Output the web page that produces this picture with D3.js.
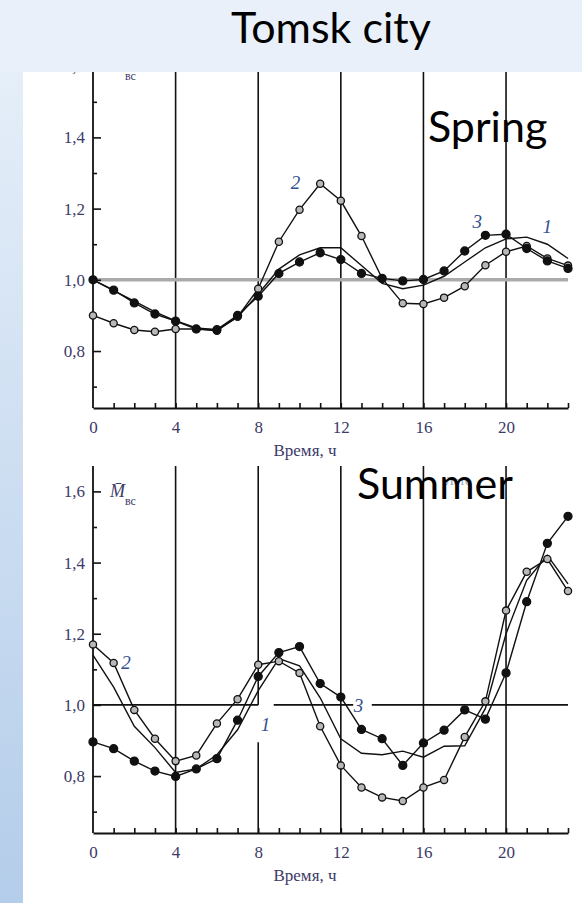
<!DOCTYPE html>
<html><head><meta charset="utf-8">
<script src="https://cdn.jsdelivr.net/npm/d3@7"></script>
<style>
html,body{margin:0;padding:0;background:#e9f0f9;}
svg{display:block;}
</style></head>
<body>
<script>
// ---------- data ----------
const hours = [0,1,2,3,4,5,6,7,8,9,10,11,12,13,14,15,16,17,18,19,20,21,22,23];
const gridHours = [4,8,12,16,20];
const xTickLabels = [0,4,8,12,16,20];
const yMajor = [0.8,1.0,1.2,1.4,1.6];
const yMinor = [0.7,0.9,1.1,1.3,1.5];

const springS1 = [1.00,0.97,0.94,0.91,0.885,0.865,0.86,0.895,0.96,1.03,1.07,1.09,1.09,1.04,0.99,0.975,0.985,1.01,1.05,1.09,1.115,1.12,1.10,1.06];
const springS2 = [0.90,0.878,0.859,0.854,0.862,0.862,0.857,0.896,0.975,1.107,1.197,1.27,1.222,1.123,1.004,0.934,0.932,0.95,0.982,1.041,1.079,1.095,1.06,1.04];
const springS3 = [1.00,0.971,0.935,0.904,0.884,0.862,0.86,0.90,0.954,1.018,1.05,1.076,1.057,1.018,1.004,0.997,1.001,1.025,1.081,1.125,1.128,1.088,1.053,1.032];

const summerS1 = [1.14,1.05,0.94,0.88,0.81,0.82,0.86,0.93,1.04,1.13,1.11,1.02,0.905,0.864,0.86,0.87,0.853,0.884,0.885,0.99,1.20,1.35,1.42,1.34];
const summerS2 = [1.17,1.118,0.986,0.905,0.842,0.858,0.948,1.016,1.113,1.123,1.09,0.94,0.83,0.768,0.74,0.73,0.768,0.789,0.91,1.01,1.265,1.374,1.41,1.32];
const summerS3 = [0.896,0.877,0.842,0.814,0.799,0.82,0.849,0.957,1.08,1.147,1.164,1.06,1.022,0.931,0.905,0.83,0.893,0.929,0.986,0.96,1.09,1.29,1.454,1.53];

const springLabels = [{t:"2",h:9.8,v:1.275},{t:"3",h:18.6,v:1.165},{t:"1",h:22.0,v:1.15}];
const summerLabels = [{t:"2",h:1.6,v:1.12},{t:"1",h:8.35,v:0.945},{t:"3",h:12.85,v:1.0}];
const summerRefSegments = [[0,8],[8.75,12.6],[13.5,23]];

// ---------- drawing ----------
const W = 582, H = 903;
const svg = d3.select("body").append("svg").attr("width",W).attr("height",H);
const defs = svg.append("defs");
const lg = defs.append("linearGradient").attr("id","bg").attr("x1",0).attr("y1",0).attr("x2",0).attr("y2",1);
lg.append("stop").attr("offset","0%").attr("stop-color","#e9f1fa");
lg.append("stop").attr("offset","100%").attr("stop-color","#b4cdea");
svg.append("rect").attr("width",W).attr("height",H).attr("fill","url(#bg)");
svg.append("rect").attr("x",0).attr("y",0).attr("width",W).attr("height",72).attr("fill","#e9f0f9");
svg.append("rect").attr("x",23).attr("y",72).attr("width",W-23).attr("height",H-72).attr("fill","#ffffff");

defs.append("clipPath").attr("id","clipTop").append("rect").attr("x",23).attr("y",72).attr("width",W-23).attr("height",H-72);

const labelColor = "#3c3a68";
const x = d3.scaleLinear().domain([0,23]).range([93,568]);

function panel(opts){
  const g = svg.append("g").attr("clip-path","url(#clipTop)");
  const y = d3.scaleLinear().domain([0.64,1.6]).range(opts.yRange);
  const yTop = opts.yTopPx;
  const axisY = y(0.64);

  // vertical grid lines
  gridHours.forEach(h=>{
    if(opts.vGap && opts.vGap.h===h){
      g.append("line").attr("x1",x(h)).attr("x2",x(h)).attr("y1",yTop).attr("y2",y(opts.vGap.v1)).attr("stroke","#111").attr("stroke-width",1.6);
      g.append("line").attr("x1",x(h)).attr("x2",x(h)).attr("y1",y(opts.vGap.v0)).attr("y2",axisY).attr("stroke","#111").attr("stroke-width",1.6);
    } else {
      g.append("line").attr("x1",x(h)).attr("x2",x(h)).attr("y1",yTop).attr("y2",axisY).attr("stroke","#111").attr("stroke-width",1.6);
    }
  });

  // reference line at 1.0
  opts.refSegments.forEach(s=>{
    g.append("line").attr("x1",x(s[0])).attr("x2",x(s[1])).attr("y1",y(1)).attr("y2",y(1))
      .attr("stroke",opts.refColor).attr("stroke-width",opts.refWidth);
  });

  // y axis
  g.append("line").attr("x1",x(0)).attr("x2",x(0)).attr("y1",yTop).attr("y2",axisY).attr("stroke","#111").attr("stroke-width",1.8);
  const yAx = g.append("g").attr("transform",`translate(${x(0)},0)`)
    .call(d3.axisLeft(y).tickValues(yMajor).tickSizeInner(-8).tickSizeOuter(0).tickPadding(8)
      .tickFormat(d=>d3.format(".1f")(d).replace(".",",")));
  yAx.select(".domain").remove();
  yAx.selectAll("line").attr("stroke","#111").attr("stroke-width",1.6);
  yAx.selectAll("text").attr("font-family","Liberation Serif").attr("font-size",17).attr("fill",labelColor);
  const yAxm = g.append("g").attr("transform",`translate(${x(0)},0)`)
    .call(d3.axisLeft(y).tickValues(yMinor).tickSizeInner(-4).tickSizeOuter(0).tickFormat(""));
  yAxm.select(".domain").remove();
  yAxm.selectAll("line").attr("stroke","#111").attr("stroke-width",1.6);

  // x axis
  const xAx = g.append("g").attr("transform",`translate(0,${axisY})`)
    .call(d3.axisBottom(x).tickValues(hours.slice(1)).tickSizeInner(-5).tickSizeOuter(0).tickFormat(""));
  xAx.select(".domain").attr("stroke","#111").attr("stroke-width",1.8);
  xAx.selectAll("line").attr("stroke","#111").attr("stroke-width",1.6);
  const xAxL = g.append("g").attr("transform",`translate(0,${axisY})`)
    .call(d3.axisBottom(x).tickValues(xTickLabels).tickSize(0).tickPadding(13));
  xAxL.select(".domain").remove();
  xAxL.selectAll("text").attr("font-family","Liberation Serif").attr("font-size",17).attr("fill",labelColor);
  g.append("text").attr("x",305).attr("y",axisY+48).attr("text-anchor","middle")
    .attr("font-family","Liberation Serif").attr("font-size",17).attr("fill",labelColor).text("Время, ч");

  // y title M̄вс
  const tt = g.append("text").attr("x",110).attr("y",y(1.6)+6).attr("font-family","Liberation Serif").attr("fill",labelColor);
  tt.append("tspan").attr("font-style","italic").attr("font-size",18).text("M\u0304");
  tt.append("tspan").attr("font-size",12).attr("dy",8).text("вс");

  // series
  const line = d3.line().x((d,i)=>x(hours[i])).y(d=>y(d));
  opts.series.forEach(s=>{
    g.append("path").datum(s.values).attr("d",line).attr("fill","none")
      .attr("stroke","#111").attr("stroke-width",1.4).attr("stroke-dasharray",s.dash||null);
  });
  opts.series.forEach(s=>{
    if(!s.marker) return;
    g.selectAll(null).data(s.values).enter().append("circle")
      .attr("cx",(d,i)=>x(hours[i])).attr("cy",d=>y(d))
      .attr("r",s.marker==="filled"?4:3.6)
      .attr("fill",s.marker==="filled"?"#111":"#b8b8b8")
      .attr("stroke","#111").attr("stroke-width",1.3);
  });

  // series labels
  opts.labels.forEach(l=>{
    g.append("text").attr("x",x(l.h)).attr("y",y(l.v)).attr("text-anchor","middle").attr("dy","0.35em")
      .attr("font-family","Liberation Serif").attr("font-style","italic").attr("font-size",19)
      .attr("fill","#34508e").text(l.t);
  });
  return {g,y};
}

panel({
  yRange:[408,66.2], yTopPx:60,
  refSegments:[[0,23]], refColor:"#aaaaaa", refWidth:3.5,
  series:[{values:springS1},{values:springS2,marker:"open"},{values:springS3,marker:"filled"}],
  labels:springLabels
});

const bot = panel({
  yRange:[833,491.4], yTopPx:466,
  refSegments:summerRefSegments, refColor:"#111", refWidth:1.6,
  vGap:{h:8,v1:1.0,v0:0.895},
  series:[{values:summerS1},{values:summerS2,marker:"open"},{values:summerS3,marker:"filled"}],
  labels:summerLabels
});

// faint original heading behind "Summer"
svg.append("text").attr("x",445).attr("y",485).attr("font-family","Liberation Serif").attr("font-size",13)
  .attr("fill","#8ea3cc").text("Лето");

// slide texts
svg.append("text").attr("x",331).attr("y",43).attr("text-anchor","middle")
  .attr("font-family","Lato").attr("font-size",43).attr("fill","#000").text("Tomsk city");
svg.append("text").attr("x",428).attr("y",142)
  .attr("font-family","Lato").attr("font-size",43).attr("fill","#000").text("Spring");
svg.append("text").attr("x",357).attr("y",499)
  .attr("font-family","Lato").attr("font-size",43).attr("fill","#000").text("Summer");
</script>
</body></html>
